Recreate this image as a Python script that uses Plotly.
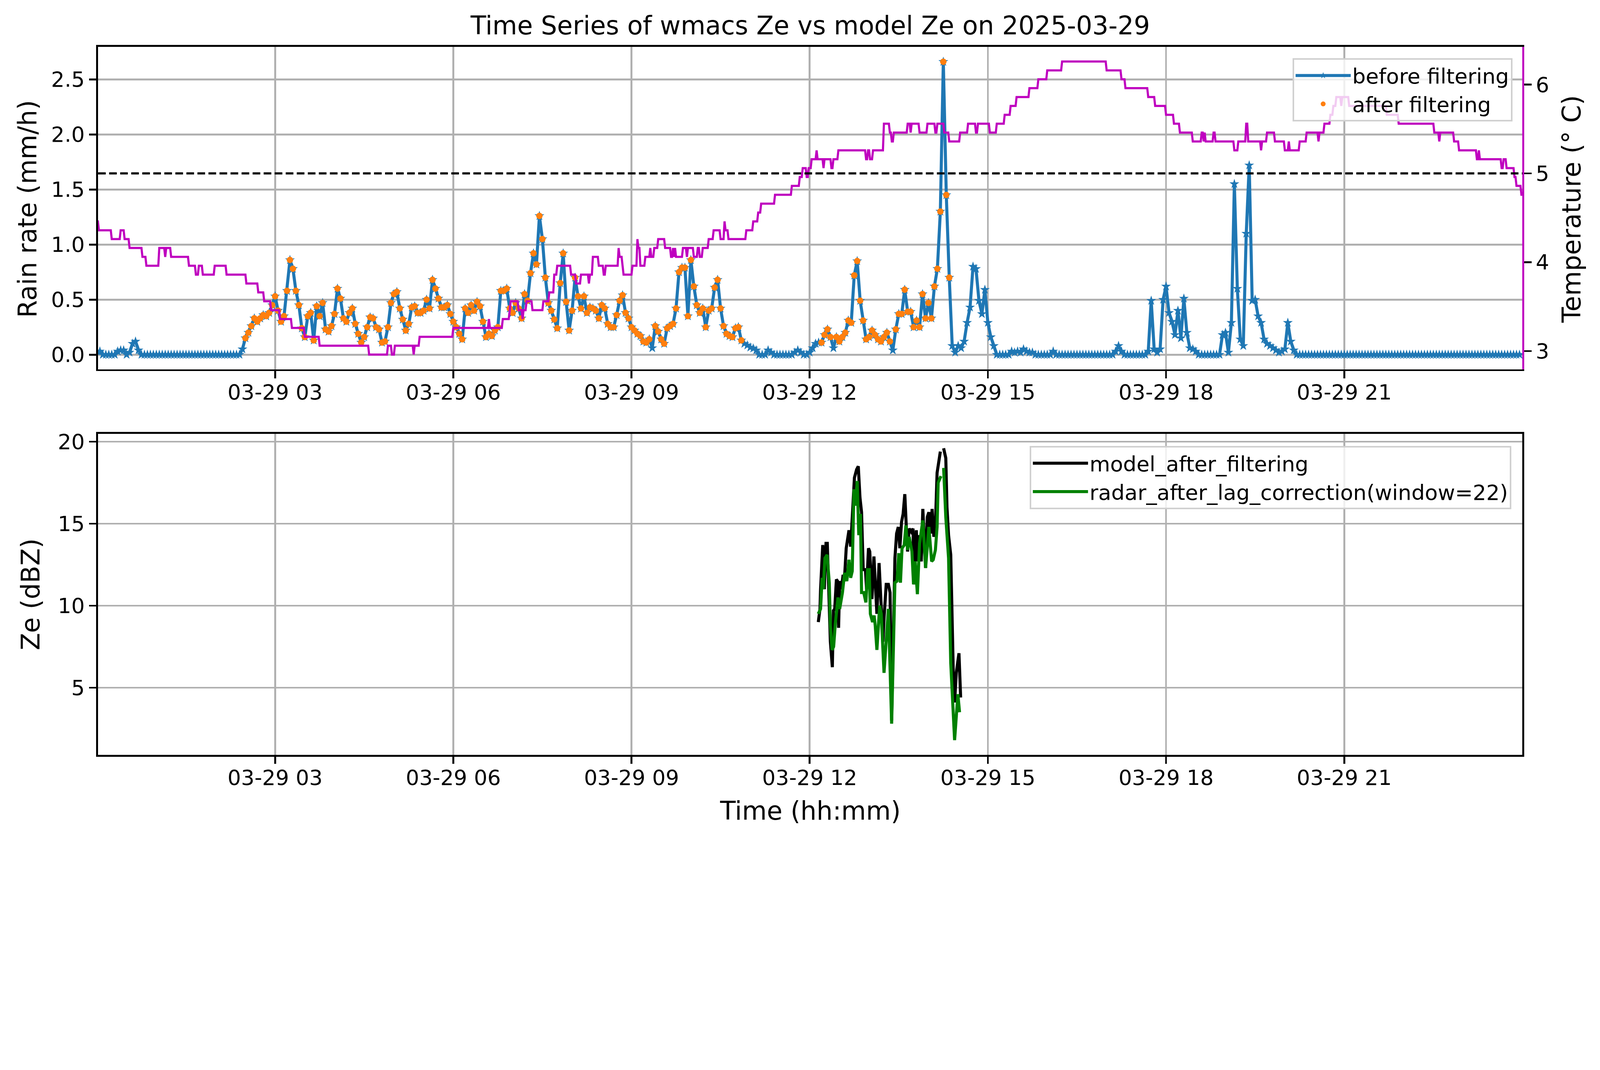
import pandas as pd
import plotly.graph_objects as go

DAY = "2025-03-29"
TITLE = "Time Series of wmacs Ze vs model Ze on 2025-03-29"

# ---- rain rate (mm/h), 3-minute samples from 00:00 ----
rain_h00_h05 = [
    0.03, 0.03, 0, 0, 0, 0, 0, 0.03, 0.04, 0.04, 0, 0.02, 0.1, 0.12, 0.04, 0, 0, 0, 0, 0,
    0, 0, 0, 0, 0, 0, 0, 0, 0, 0, 0, 0, 0, 0, 0, 0, 0, 0, 0, 0,
    0, 0, 0, 0, 0, 0, 0, 0, 0, 0.05, 0.15, 0.2, 0.26, 0.33, 0.3, 0.33, 0.36, 0.35, 0.38, 0.45,
    0.53, 0.4, 0.3, 0.35, 0.58, 0.86, 0.78, 0.58, 0.45, 0.24, 0.16, 0.35, 0.38, 0.13, 0.44, 0.35, 0.47, 0.23, 0.21, 0.26,
    0.37, 0.6, 0.51, 0.33, 0.3, 0.38, 0.42, 0.28, 0.19, 0.11, 0.16, 0.25, 0.34, 0.33, 0.25, 0.23, 0.11, 0.12, 0.25, 0.47,
    0.55, 0.57, 0.42, 0.32, 0.22, 0.28, 0.43, 0.44, 0.38, 0.38, 0.4, 0.5, 0.42, 0.68, 0.6, 0.51, 0.43, 0.43, 0.45, 0.37,
]
rain_h06_h11 = [
    0.3, 0.25, 0.19, 0.14, 0.42, 0.38, 0.45, 0.4, 0.48, 0.44, 0.3, 0.16, 0.19, 0.17, 0.22, 0.25, 0.58, 0.58, 0.6, 0.42,
    0.38, 0.47, 0.42, 0.33, 0.55, 0.49, 0.74, 0.92, 0.82, 1.26, 1.05, 0.7, 0.47, 0.4, 0.32, 0.24, 0.65, 0.92, 0.48, 0.22,
    0.4, 0.7, 0.53, 0.42, 0.53, 0.38, 0.43, 0.42, 0.4, 0.33, 0.45, 0.42, 0.28, 0.25, 0.25, 0.36, 0.49, 0.54, 0.38, 0.33,
    0.25, 0.22, 0.19, 0.17, 0.12, 0.11, 0.14, 0.06, 0.26, 0.21, 0.14, 0.1, 0.24, 0.26, 0.28, 0.42, 0.75, 0.79, 0.79, 0.35,
    0.86, 0.62, 0.45, 0.38, 0.42, 0.25, 0.4, 0.42, 0.61, 0.68, 0.42, 0.26, 0.19, 0.17, 0.16, 0.24, 0.25, 0.13, 0.1, 0.085,
    0.066, 0.057, 0.04, 0, 0, 0, 0.04, 0.02, 0, 0, 0, 0, 0, 0, 0, 0.02, 0.04, 0.02, 0, 0,
]
rain_h12_h17 = [
    0.02, 0.06, 0.1, 0.11, 0.11, 0.18, 0.23, 0.16, 0.06, 0.16, 0.12, 0.16, 0.2, 0.31, 0.29, 0.72, 0.85, 0.49, 0.31, 0.14,
    0.16, 0.22, 0.18, 0.14, 0.12, 0.16, 0.2, 0.12, 0.04, 0.23, 0.37, 0.37, 0.59, 0.39, 0.39, 0.25, 0.31, 0.25, 0.55, 0.33,
    0.47, 0.33, 0.62, 0.78, 1.3, 2.66, 1.45, 0.7, 0.08, 0.02, 0.08, 0.06, 0.12, 0.29, 0.43, 0.8, 0.78, 0.49, 0.37, 0.59,
    0.29, 0.16, 0.08, 0, 0, 0, 0, 0, 0.03, 0.02, 0.03, 0.02, 0.05, 0.03, 0.02, 0.02, 0, 0, 0, 0,
    0, 0, 0.03, 0, 0, 0, 0, 0, 0, 0, 0, 0, 0, 0, 0, 0, 0, 0, 0, 0,
    0, 0, 0, 0.03, 0.08, 0.03, 0, 0, 0, 0, 0, 0, 0, 0, 0.03, 0.49, 0.05, 0.02, 0.05, 0.5,
]
rain_h18_h23 = [
    0.62, 0.38, 0.3, 0.18, 0.4, 0.15, 0.51, 0.2, 0.06, 0.05, 0.03, 0, 0, 0, 0, 0, 0, 0, 0, 0.18,
    0.2, 0.02, 0.29, 1.55, 0.6, 0.14, 0.08, 1.1, 1.72, 0.49, 0.5, 0.35, 0.29, 0.14, 0.1, 0.08, 0.06, 0.04, 0.02, 0.03,
    0.05, 0.29, 0.12, 0.04, 0, 0, 0, 0, 0, 0, 0, 0, 0, 0, 0, 0, 0, 0, 0, 0,
    0, 0, 0, 0, 0, 0, 0, 0, 0, 0, 0, 0, 0, 0, 0, 0, 0, 0, 0, 0,
    0, 0, 0, 0, 0, 0, 0, 0, 0, 0, 0, 0, 0, 0, 0, 0, 0, 0, 0, 0,
    0, 0, 0, 0, 0, 0, 0, 0, 0, 0, 0, 0, 0, 0, 0, 0, 0, 0, 0, 0,
]
rain_before = rain_h00_h05 + rain_h06_h11 + rain_h12_h17 + rain_h18_h23

# filter: kept time windows (minutes after midnight) and minimum rate
keep_windows_min = [(149, 652), (732, 862)]
keep_min_rate = 0.08

# ---- temperature (deg C): change points (minute of day, value), 1-minute logger ----
temp_change_min = [
    0, 2, 15, 24, 28, 33, 46, 50, 63, 69, 70, 75, 93, 100, 103, 107, 119, 131, 151, 163,
    169, 176, 185, 197, 210, 225, 275, 294, 298, 301, 320, 321, 326, 360, 396, 397, 410, 417, 418, 426,
    430, 431, 434, 440, 451, 457, 462, 465, 479, 484, 489, 497, 498, 501, 507, 512, 514, 527, 528, 531,
    532, 541, 546, 547, 549, 554, 559, 560, 563, 567, 574, 580, 582, 583, 584, 585, 592, 596, 597, 603,
    607, 609, 612, 618, 623, 630, 634, 635, 638, 656, 663, 668, 671, 685, 702, 710, 713, 717, 719, 722,
    727, 728, 734, 735, 742, 744, 749, 777, 779, 781, 784, 795, 801, 803, 805, 819, 822, 823, 831, 839,
    847, 849, 856, 861, 872, 880, 888, 890, 902, 909, 917, 923, 929, 942, 951, 960, 975, 1020, 1035, 1039,
    1062, 1069, 1080, 1088, 1094, 1107, 1116, 1118, 1119, 1120, 1128, 1130, 1149, 1153, 1161, 1163, 1176, 1177, 1182, 1190,
    1200, 1204, 1205, 1215, 1222, 1234, 1235, 1240, 1246, 1249, 1252, 1257, 1258, 1265, 1303, 1315, 1351, 1356, 1357, 1371,
    1376, 1394, 1396, 1397, 1419, 1421, 1424, 1432, 1434, 1439, 1440,
]
temp_c = [
    4.46, 4.36, 4.26, 4.36, 4.26, 4.16, 4.06, 3.96, 4.16, 4.06, 4.16, 4.06, 3.96, 3.86, 3.96, 3.86, 3.96, 3.86, 3.76, 3.66,
    3.56, 3.46, 3.36, 3.26, 3.16, 3.06, 2.96, 3.06, 2.96, 3.06, 2.96, 3.06, 3.16, 3.26, 3.36, 3.26, 3.36, 3.46, 3.56, 3.46,
    3.36, 3.46, 3.56, 3.46, 3.56, 3.66, 3.86, 3.96, 3.86, 3.76, 3.86, 3.76, 3.86, 4.06, 3.96, 3.86, 3.96, 4.16, 4.06, 3.96,
    3.86, 3.96, 4.26, 4.16, 3.96, 4.06, 4.16, 4.06, 4.16, 4.26, 4.16, 4.06, 4.16, 4.06, 4.16, 4.06, 4.16, 4.06, 4.16, 4.06,
    4.16, 4.06, 4.16, 4.26, 4.36, 4.26, 4.46, 4.36, 4.26, 4.36, 4.46, 4.56, 4.66, 4.76, 4.86, 4.96, 5.06, 4.96, 5.06, 5.16,
    5.26, 5.16, 5.06, 5.16, 5.06, 5.16, 5.26, 5.16, 5.26, 5.16, 5.26, 5.56, 5.46, 5.36, 5.46, 5.56, 5.46, 5.56, 5.46, 5.56,
    5.46, 5.56, 5.46, 5.36, 5.46, 5.56, 5.46, 5.56, 5.46, 5.56, 5.66, 5.76, 5.86, 5.96, 6.06, 6.16, 6.26, 6.16, 6.06, 5.96,
    5.86, 5.76, 5.66, 5.56, 5.46, 5.36, 5.46, 5.36, 5.46, 5.36, 5.46, 5.36, 5.26, 5.36, 5.56, 5.36, 5.26, 5.36, 5.46, 5.36,
    5.26, 5.36, 5.26, 5.36, 5.46, 5.36, 5.46, 5.56, 5.66, 5.76, 5.86, 5.76, 5.86, 5.76, 5.66, 5.56, 5.46, 5.36, 5.46, 5.36,
    5.26, 5.16, 5.26, 5.16, 5.06, 5.16, 5.06, 4.96, 4.86, 4.76, 4.76,
]
temp_threshold_c = 5.0

# ---- reflectivity (dBZ) ----
model_min = [
    728.7, 730.4, 731.0, 733.2, 734.8, 736.5, 737.8, 739.8, 740.9, 742.9, 744.0, 745.3, 747.0, 748.1, 749.2, 750.3,
    752.0, 753.6, 755.3, 756.9, 759.7, 761.4, 764.1, 765.2, 767.4, 769.1, 770.8, 772.4, 774.1, 776.3, 777.5, 779.4,
    780.7, 782.9, 784.9, 787.9, 790.1, 791.8, 794.0, 795.1, 797.3, 799.5, 801.2, 802.8, 806.1, 807.8, 809.5, 811.1,
    812.8, 814.4, 816.1, 817.7, 818.9, 820.5, 822.7, 824.4, 825.5, 827.7, 829.4, 830.5, 832.7, 834.3, 837.1, 838.8,
    840.4, 842.1, 843.7, 845.4, 847.0, 848.7, 850.4, 852.0, 854.0, 855.3, 857.5, 858.7, 860.3, 862.5, 864.2, 865.3,
    866.4, 868.1, 870.8, 872.5,
]
model_ze = [
    9.0, 9.8, 11.0, 13.7, 11.0, 13.8, 13.8, 8.65, 7.8, 6.25, 9.7, 9.8, 11.6, 11.5, 8.65, 11.5,
    11.0, 11.8, 11.8, 13.5, 14.6, 13.6, 17.3, 17.8, 18.3, 18.5, 16.6, 15.7, 12.2, 12.2, 11.0, 13.5,
    13.3, 10.4, 13.0, 9.5, 12.6, 10.1, 7.8, 9.2, 11.3, 11.3, 10.8, 3.0, 12.9, 14.4, 14.8, 13.5,
    15.1, 15.6, 16.8, 14.7, 13.3, 14.7, 14.5, 14.7, 11.3, 14.6, 12.7, 14.3, 12.7, 15.9, 12.3, 15.4,
    15.7, 14.4, 15.9, 14.2, 14.9, 18.1, 18.7, 19.4, None, 19.6, 19.0, 16.0, 14.3, 13.1, 7.4, 5.3,
    4.1, 5.9, 7.1, 4.4,
]
radar_min = [
    728.7, 731.0, 732.6, 733.7, 735.4, 737.6, 739.8, 740.9, 742.6, 744.2, 745.9, 748.6, 750.3, 753.1, 755.3, 757.5,
    759.7, 761.4, 763.0, 764.7, 766.3, 768.0, 769.6, 771.3, 772.4, 774.6, 776.8, 778.5, 780.2, 781.3, 783.5, 785.1,
    786.2, 787.9, 790.7, 792.3, 795.1, 799.5, 802.8, 806.1, 808.3, 810.0, 811.7, 813.3, 815.5, 817.2, 818.9, 820.5,
    823.3, 824.9, 826.6, 828.8, 831.0, 834.3, 837.1, 840.4, 843.2, 844.8, 847.0, 848.7, 849.8, 852.6, 854.0, 855.3,
    857.5, 860.3, 862.5, 866.4, 869.7, 871.4,
]
radar_ze = [
    9.5, 9.8, 11.7, 11.0, 12.9, 13.1, 11.4, 8.8, 7.3, 7.5, 8.9, 10.5, 9.8, 10.8, 12.0, 11.5,
    12.8, 11.7, 12.1, 17.1, 16.1, 17.6, 14.3, 15.6, 10.8, 10.8, 10.2, 12.2, 12.2, 9.5, 9.0, 9.4,
    8.8, 7.3, 10.0, 9.5, 5.9, 9.8, 2.8, 11.4, 11.5, 13.2, 11.4, 13.5, 13.7, 14.9, 13.4, 14.2,
    13.3, 11.3, 12.7, 10.7, 13.8, 15.2, 12.3, 14.8, 12.7, 12.8, 13.4, 14.8, 17.5, 17.9, None, 18.4,
    15.4, 12.9, 6.5, 1.8, 4.6, 3.5,
]

# ---- ticks ----
xtick_min = [180, 360, 540, 720, 900, 1080, 1260]
xtick_text = ["03-29 03", "03-29 06", "03-29 09", "03-29 12", "03-29 15", "03-29 18", "03-29 21"]
rain_ticks = [0.0, 0.5, 1.0, 1.5, 2.0, 2.5]
temp_ticks = [3, 4, 5, 6]
ze_ticks = [5, 10, 15, 20]

# ---------------------------------------------------------------
base = pd.Timestamp(DAY)


def at(minutes):
    return [None if m is None else base + pd.Timedelta(minutes=m) for m in minutes]


rain_time = pd.date_range(base, periods=len(rain_before), freq="3min")
rain_min = [i * 3 for i in range(len(rain_before))]
after_x, after_y = [], []
for t, m, v in zip(rain_time, rain_min, rain_before):
    if v >= keep_min_rate and any(a <= m <= b for a, b in keep_windows_min):
        after_x.append(t)
        after_y.append(v)

# run-length decode the 1-minute temperature record: each value holds until
# the minute before the next change (line joins consecutive minutes as in the logger)
temp_x, temp_y = [], []
for i, (m, v) in enumerate(zip(temp_change_min, temp_c)):
    temp_x.append(m)
    temp_y.append(v)
    if i + 1 < len(temp_change_min):
        last = temp_change_min[i + 1] - 1
        if last > m:
            temp_x.append(last)
            temp_y.append(v)

W, H = 5219, 2740
ML, MR, MT, MB = 320, 253, 153, 277
PW, PH = W - ML - MR, H - MT - MB


def px_x(fx):
    return (fx - ML) / PW


def px_y(fy):
    return (H - MB - fy) / PH


FONT = "DejaVu Sans"
TICK = 69
LAB = 83
BLUE, ORANGE, MAG = "#1f77b4", "#ff7f0e", "#bf00bf"
GRID = "#b0b0b0"
LW = 5.5

fig = go.Figure()
fig.add_trace(go.Scatter(
    x=rain_time, y=rain_before, mode="lines+markers", name="before filtering",
    line=dict(color=BLUE, width=10), marker=dict(symbol="star", size=24, color=BLUE),
    xaxis="x", yaxis="y", legend="legend"))
fig.add_trace(go.Scatter(
    x=after_x, y=after_y, mode="markers", name="after filtering",
    marker=dict(symbol="circle", size=21, color=ORANGE),
    xaxis="x", yaxis="y", legend="legend"))
fig.add_trace(go.Scatter(
    x=at(temp_x), y=temp_y, mode="lines", line=dict(color=MAG, width=7),
    showlegend=False, xaxis="x", yaxis="y2"))
fig.add_trace(go.Scatter(
    x=at(model_min), y=model_ze, mode="lines", name="model_after_filtering",
    line=dict(color="black", width=10), xaxis="x2", yaxis="y3", legend="legend2"))
fig.add_trace(go.Scatter(
    x=at(radar_min), y=radar_ze, mode="lines", name="radar_after_lag_correction(window=22)",
    line=dict(color="#008000", width=10), xaxis="x2", yaxis="y3", legend="legend2"))

xr = at([1.2, 1440])
axis_common = dict(
    ticks="outside", ticklen=24, tickwidth=LW, tickcolor="black",
    tickfont=dict(family=FONT, size=TICK, color="black"),
    showline=True, linecolor="black", linewidth=LW, zeroline=False, automargin=False,
)
xcommon = dict(axis_common, type="date", range=xr, tickvals=at(xtick_min), ticktext=xtick_text,
               showgrid=True, gridcolor=GRID, gridwidth=LW, mirror=True, ticklabelstandoff=-14)

top_bottom = px_y(1205)
bot_top = px_y(1415)

legend_common = dict(xanchor="right", yanchor="top", bgcolor="rgba(255,255,255,0.8)",
                     bordercolor="#d0d0d0", borderwidth=5,
                     font=dict(family=FONT, size=TICK, color="black"), itemwidth=180)

fig.update_layout(
    width=W, height=H, margin=dict(l=ML, r=MR, t=MT, b=MB),
    paper_bgcolor="white", plot_bgcolor="white",
    font=dict(family=FONT, color="black"),
    title=dict(text=TITLE, x=0.5, xref="paper", xanchor="center", y=1 - 83 / H, yref="container",
               yanchor="middle", font=dict(family=FONT, size=LAB, color="black")),
    xaxis=dict(xcommon, domain=[0, 1], anchor="y"),
    yaxis=dict(axis_common, domain=[top_bottom, 1], range=[-0.133, 2.795], tickvals=rain_ticks,
               tickformat=".1f", showgrid=True, gridcolor=GRID, gridwidth=LW, mirror=False),
    yaxis2=dict(axis_common, overlaying="y", side="right", anchor="x", range=[2.794, 6.425],
                tickvals=temp_ticks, showgrid=False, linecolor=MAG),
    xaxis2=dict(xcommon, domain=[0, 1], anchor="y3"),
    yaxis3=dict(axis_common, domain=[0, bot_top], range=[0.9, 20.49], tickvals=ze_ticks,
                showgrid=True, gridcolor=GRID, gridwidth=LW, mirror=True),
    legend=dict(legend_common, x=px_x(4933), y=px_y(190)),
    legend2=dict(legend_common, x=px_x(4930), y=px_y(1455)),
    showlegend=True,
)

fig.add_shape(type="line", xref="x domain", x0=0, x1=1, yref="y2", y0=temp_threshold_c, y1=temp_threshold_c,
              line=dict(color="black", width=7, dash="25px,11px"))

ann = dict(xref="paper", yref="paper", showarrow=False, font=dict(family=FONT, size=LAB, color="black"),
           xanchor="center", yanchor="middle")
fig.add_annotation(ann, text="Rain rate (mm/h)", x=px_x(90), y=px_y(682), textangle=-90)
fig.add_annotation(ann, text="Temperature (° C)", x=px_x(5126), y=px_y(682), textangle=-90)
fig.add_annotation(ann, text="Ze (dBZ)", x=px_x(100), y=px_y(1939), textangle=-90)
fig.add_annotation(ann, text="Time (hh:mm)", x=0.5, y=px_y(2646))

# fit the 5219x2740 design into whatever CSS viewport the window provides
fit_js = (
    "var z = Math.min(window.innerWidth / %d, window.innerHeight / %d);"
    "document.documentElement.style.overflow = 'hidden';"
    "document.body.style.margin = '0';"
    "document.body.style.overflow = 'hidden';"
    "document.body.style.zoom = z;" % (W, H)
)
fig.write_html("out.html", post_script=fit_js, config={"displayModeBar": False})
